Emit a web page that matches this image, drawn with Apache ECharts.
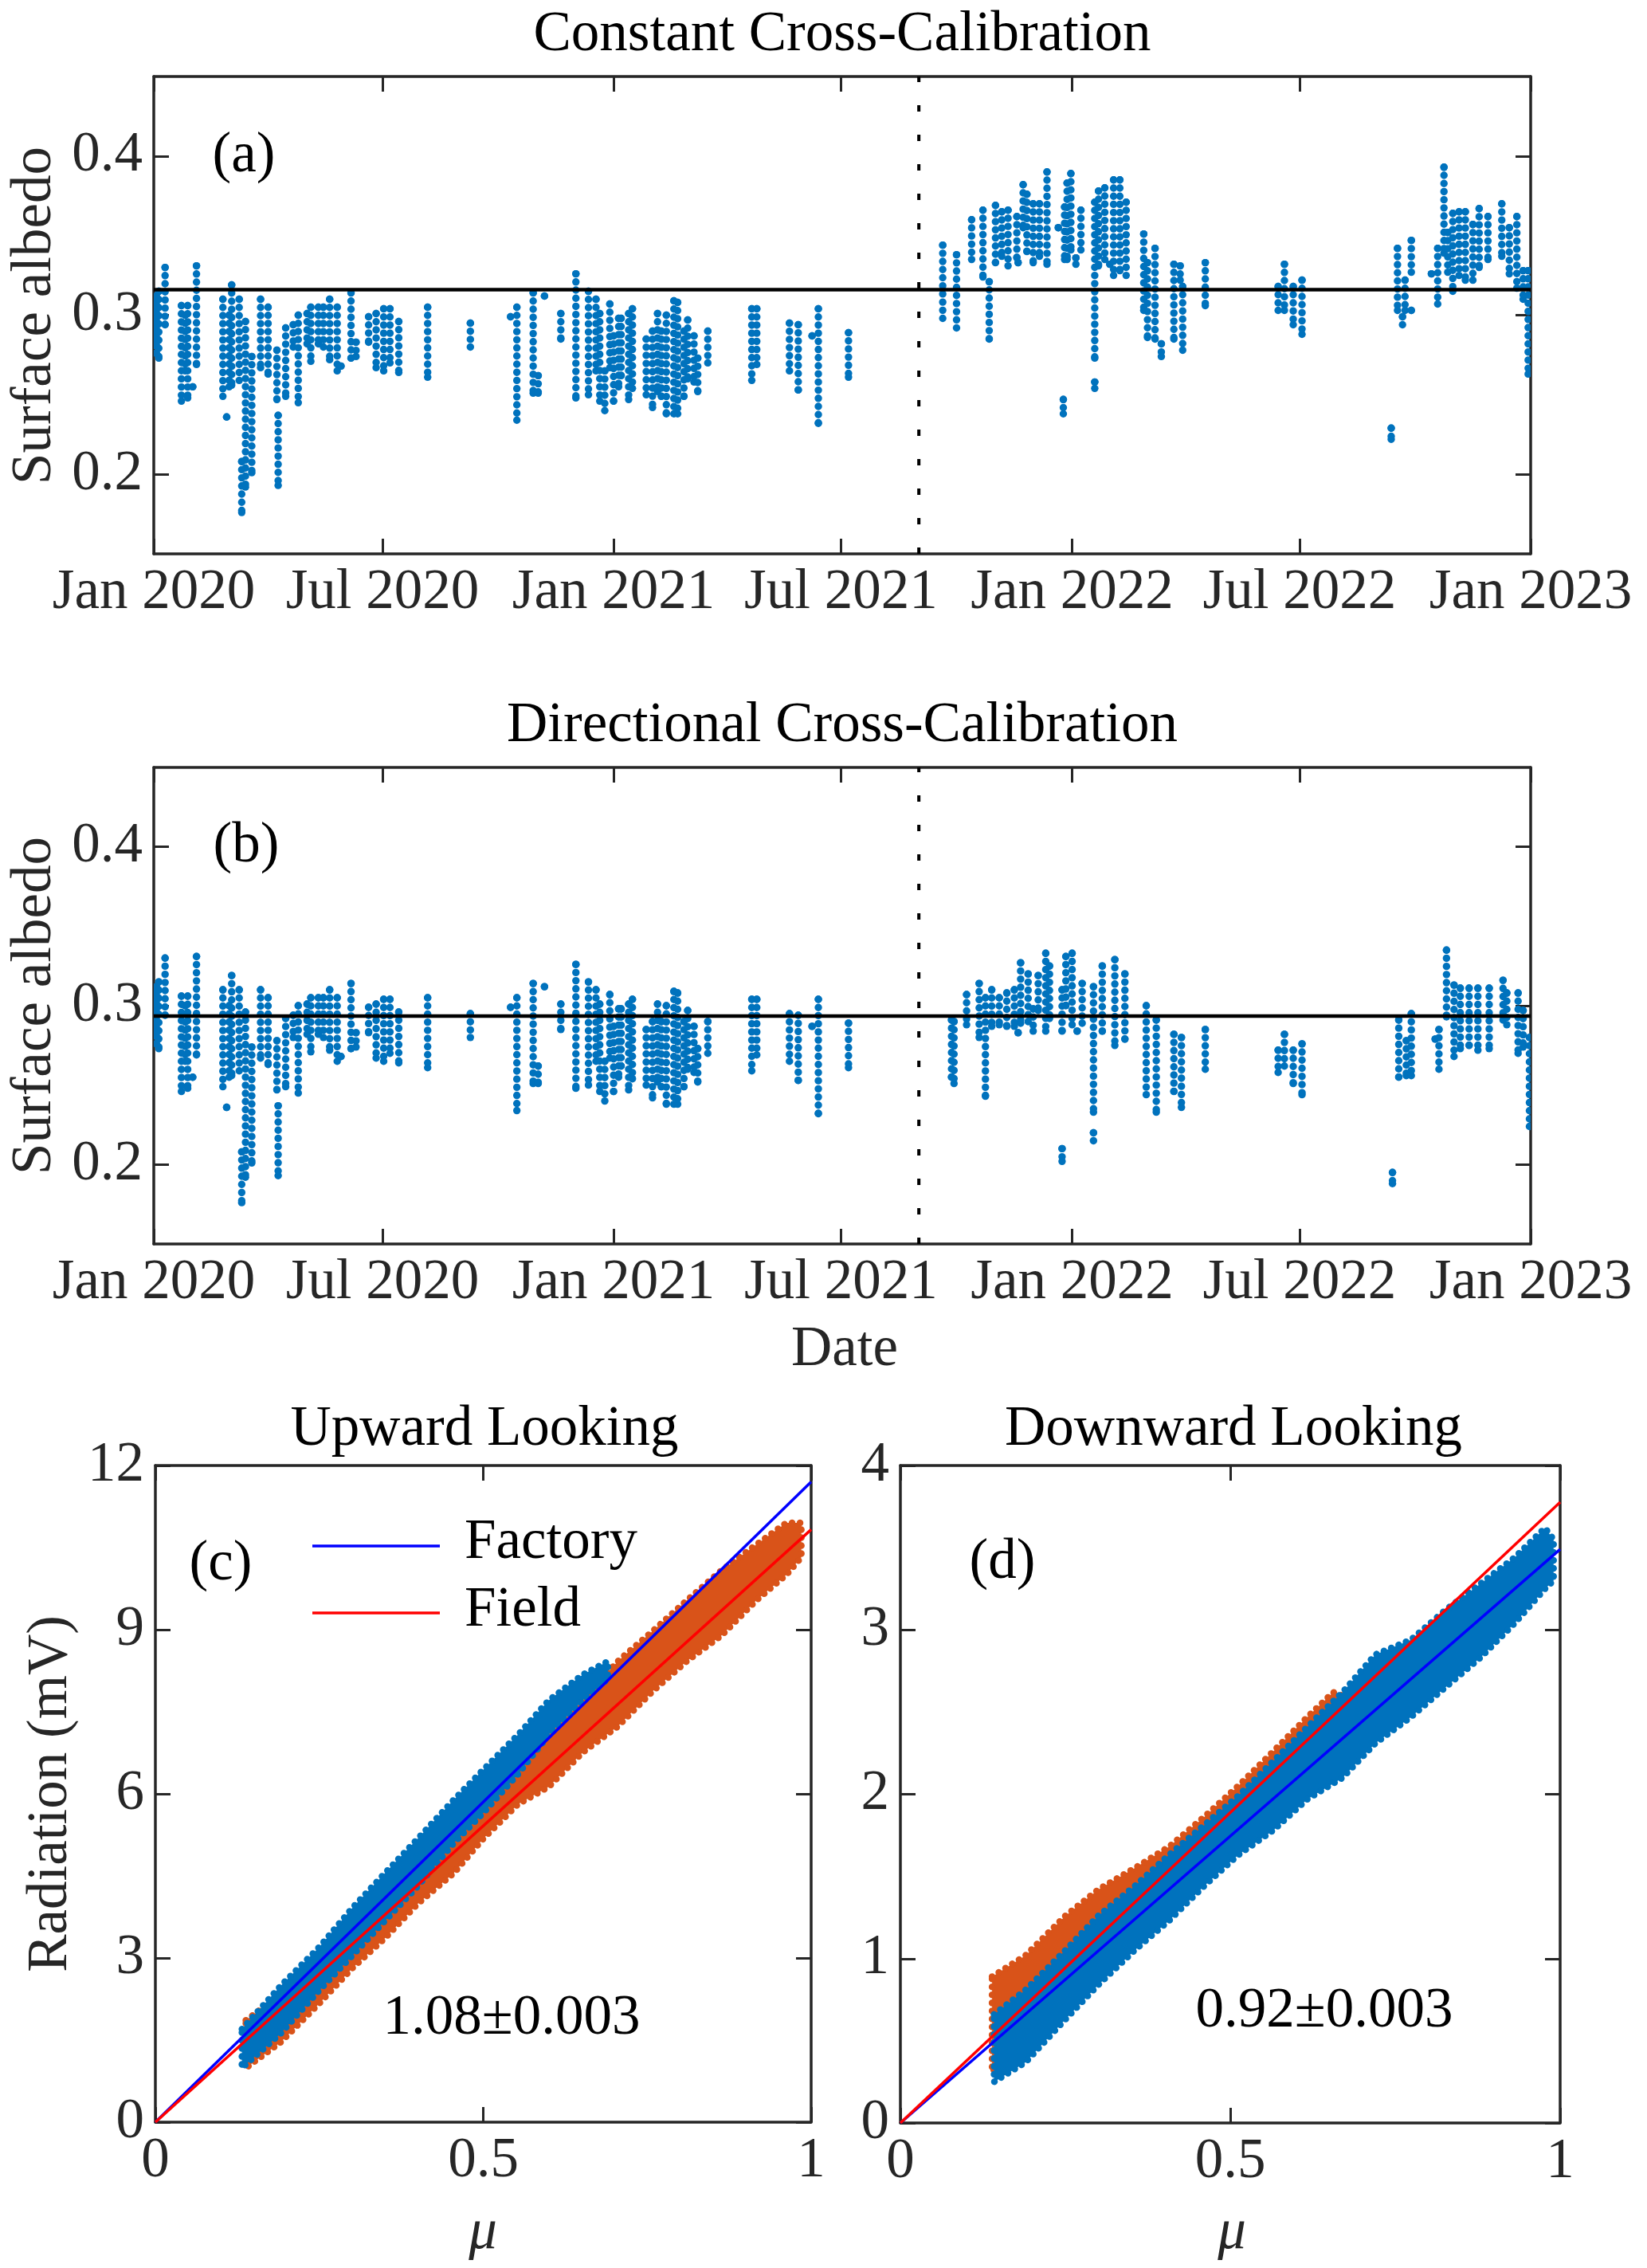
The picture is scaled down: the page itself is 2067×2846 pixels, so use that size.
<!DOCTYPE html>
<html>
<head>
<meta charset="utf-8">
<title>Cross-calibration</title>
<script src="https://cdn.jsdelivr.net/npm/echarts@6/dist/echarts.min.js"></script>
<style>
  html, body { margin: 0; padding: 0; background: #fff; }
  #main { width: 2067px; height: 2846px; }
</style>
</head>
<body>
<div id="main"></div>
<script>
// ---- data ----
// albedo columns: [days since 1 Jan 2020, lowest value, highest value] for each day of samples
var preSepCols = [
  [0,0.281,0.310],[2,0.276,0.312],[4,0.273,0.315],[9,0.294,0.330],[22,0.246,0.306],[25,0.265,0.300],
  [27,0.248,0.306],[31,0.255,0.255],[34,0.269,0.331],[55,0.249,0.310],[58,0.236,0.236],[60,0.255,0.300],
  [62,0.256,0.319],[68,0.259,0.310],[70,0.176,0.208],[73,0.192,0.296],[78,0.201,0.274],[85,0.267,0.310],
  [91,0.263,0.305],[98,0.247,0.278],[99,0.193,0.237],[105,0.249,0.292],[111,0.280,0.294],[115,0.245,0.300],
  [122,0.282,0.301],[125,0.271,0.305],[131,0.282,0.305],[135,0.280,0.305],[140,0.272,0.310],[146,0.265,0.305],
  [149,0.268,0.268],[157,0.273,0.314],[161,0.274,0.283],[171,0.283,0.299],[177,0.267,0.301],[183,0.265,0.304],
  [188,0.270,0.304],[195,0.264,0.296],[218,0.261,0.305],[252,0.280,0.295],[284,0.299,0.299],[289,0.234,0.305],
  [302,0.251,0.314],[306,0.251,0.262],[311,0.312,0.312],[324,0.285,0.301],[336,0.248,0.326],[346,0.250,0.315],
  [352,0.265,0.310],[355,0.246,0.301],[359,0.240,0.265],[363,0.267,0.307],[366,0.246,0.287],[370,0.255,0.298],
  [372,0.262,0.298],[378,0.247,0.301],[381,0.254,0.304],[392,0.250,0.285],[397,0.242,0.290],[401,0.252,0.301],
  [404,0.249,0.290],[408,0.238,0.300],[414,0.238,0.309],[417,0.238,0.308],[422,0.249,0.290],[425,0.260,0.297],
  [430,0.258,0.287],[433,0.252,0.273],[441,0.270,0.290],[476,0.259,0.304],[480,0.269,0.304],[506,0.265,0.295],
  [513,0.253,0.294],[524,0.287,0.287],[529,0.232,0.304],[553,0.261,0.289]
];
var constPostCols = [
  [628,0.298,0.344],[639,0.292,0.338],[651,0.335,0.360],[660,0.324,0.366],[665,0.285,0.321],[670,0.333,0.369],
  [675,0.337,0.365],[680,0.331,0.366],[687,0.336,0.362],[688,0.333,0.333],[692,0.355,0.382],[695,0.340,0.376],
  [700,0.333,0.370],[705,0.337,0.370],[711,0.332,0.390],[720,0.355,0.355],[724,0.238,0.247],[725,0.335,0.368],
  [727,0.335,0.383],[730,0.341,0.389],[734,0.332,0.336],[738,0.341,0.366],[749,0.273,0.371],[749,0.254,0.258],
  [752,0.331,0.378],[757,0.335,0.380],[761,0.332,0.332],[764,0.325,0.385],[769,0.328,0.385],[774,0.325,0.371],
  [788,0.303,0.351],[791,0.286,0.333],[797,0.285,0.342],[802,0.274,0.282],[812,0.285,0.332],[817,0.322,0.331],
  [819,0.278,0.318],[837,0.306,0.333],[895,0.303,0.318],[900,0.303,0.332],[907,0.294,0.318],[914,0.288,0.322],
  [985,0.222,0.229],[990,0.303,0.342],[994,0.294,0.299],[996,0.303,0.322],[1001,0.327,0.347],[1001,0.303,0.303],
  [1017,0.326,0.326],[1022,0.307,0.342],[1027,0.339,0.393],[1030,0.327,0.352],[1034,0.315,0.364],[1039,0.325,0.365],
  [1044,0.322,0.365],[1050,0.322,0.357],[1055,0.330,0.367],[1062,0.335,0.362],[1073,0.337,0.370],[1079,0.326,0.355],
  [1085,0.317,0.362],[1090,0.310,0.328],[1094,0.263,0.328]
];
var dirPostCols = [
  [635,0.255,0.291],[637,0.251,0.290],[647,0.288,0.307],[657,0.280,0.314],[662,0.243,0.305],[667,0.287,0.310],
  [673,0.288,0.305],[679,0.287,0.308],[685,0.287,0.310],[688,0.283,0.283],[690,0.289,0.327],[696,0.290,0.320],
  [700,0.284,0.298],[704,0.297,0.319],[710,0.284,0.333],[713,0.292,0.325],[723,0.202,0.210],[723,0.284,0.310],
  [726,0.300,0.331],[731,0.288,0.333],[735,0.284,0.284],[739,0.289,0.314],[748,0.233,0.312],[748,0.215,0.220],
  [755,0.284,0.325],[765,0.275,0.329],[773,0.279,0.320],[790,0.244,0.300],[798,0.233,0.291],[812,0.246,0.282],
  [818,0.236,0.280],[837,0.260,0.285],[895,0.258,0.272],[900,0.262,0.282],[907,0.251,0.272],[914,0.244,0.276],
  [986,0.188,0.195],[991,0.255,0.291],[997,0.256,0.278],[1001,0.256,0.295],[1020,0.279,0.279],[1023,0.260,0.285],
  [1029,0.293,0.335],[1035,0.268,0.313],[1040,0.273,0.311],[1047,0.275,0.311],[1054,0.272,0.311],[1063,0.273,0.311],
  [1074,0.291,0.316],[1077,0.288,0.308],[1086,0.270,0.308],[1090,0.274,0.297],[1095,0.224,0.280]
];
var constMean = 0.316;
var dirMean = 0.2935;
var switchDay = 609;            // 1 Sep 2021
var dateTickDays = [0, 182, 366, 547, 731, 912, 1096];
var dateTickLabels = ['Jan 2020', 'Jul 2020', 'Jan 2021', 'Jul 2021', 'Jan 2022', 'Jul 2022', 'Jan 2023'];
var albedoTicks = [0.2, 0.3, 0.4];

// (c) upward looking: scatter envelopes, mu -> low / high radiation (mV)
var upFieldMu = [0.138,0.191,0.25,0.30,0.35,0.40,0.455,0.50,0.553,0.60,0.652,0.705,0.758,0.81,0.863,0.916,0.962,0.985];
var upFieldLo = [0.99,1.46,2.17,2.81,3.36,3.99,4.55,5.18,5.81,6.13,6.76,7.23,7.87,8.42,8.89,9.53,10.00,10.32];
var upFieldHi = [1.86,2.33,3.04,3.60,4.15,4.70,5.34,5.97,6.60,7.08,7.71,8.42,8.97,9.53,10.08,10.55,10.95,10.95];
var upFacMu = [0.132,0.191,0.25,0.30,0.35,0.40,0.455,0.50,0.553,0.60,0.652,0.69];
var upFacLo = [0.99,1.62,2.41,3.04,3.68,4.31,5.10,5.65,6.36,7.08,7.71,8.10];
var upFacHi = [1.70,2.49,3.20,3.91,4.55,5.18,5.89,6.44,7.08,7.71,8.18,8.42];
var upFactoryFit = [[0, 0], [1, 11.7]];
var upFieldFit = [[0, 0], [1, 10.83]];

// (d) downward looking
var dnFacMu = [0.142,0.19,0.25,0.30,0.355,0.407,0.46,0.512,0.565,0.617,0.67,0.72,0.774,0.826,0.879,0.931,0.977,0.99];
var dnFacLo = [0.25,0.37,0.63,0.84,1.05,1.23,1.44,1.63,1.78,1.97,2.10,2.31,2.47,2.65,2.83,3.04,3.25,3.30];
var dnFacHi = [0.66,0.81,1.05,1.26,1.44,1.63,1.81,1.99,2.20,2.41,2.62,2.85,2.94,3.12,3.28,3.44,3.62,3.55];
var dnFieldMu = [0.139,0.19,0.25,0.30,0.355,0.407,0.46,0.512,0.565,0.617,0.656,0.67];
var dnFieldLo = [0.31,0.58,0.81,1.05,1.26,1.44,1.63,1.81,2.05,2.26,2.44,2.50];
var dnFieldHi = [0.89,1.02,1.26,1.42,1.55,1.68,1.86,2.05,2.26,2.47,2.62,2.60];
var dnFactoryFit = [[0, 0], [1, 3.49]];
var dnFieldFit = [[0, 0], [1, 3.777]];

// ---- styling ----
var FONT = '"Liberation Serif", "DejaVu Serif", serif';
var FS = 71;
var AX = '#262626';
var DOT = '#0072BD';
var ORANGE = '#D95319';

var myChart = echarts.init(document.getElementById('main'), null, {renderer: 'canvas'});

function colRender(params, api) {
  var x = api.value(0), lo = api.value(1), hi = api.value(2);
  var p1 = api.coord([x, hi]), p2 = api.coord([x, lo]);
  var r = 4.7;
  var kids = [
    {type: 'circle', shape: {cx: p1[0], cy: p1[1], r: r}, style: {fill: DOT}},
    {type: 'circle', shape: {cx: p2[0], cy: p2[1], r: r}, style: {fill: DOT}}
  ];
  if (p2[1] - p1[1] > 2) {
    kids.push({type: 'line', shape: {x1: p1[0], y1: p1[1], x2: p2[0], y2: p2[1]},
      style: {stroke: DOT, lineWidth: 9.4, lineCap: 'round', lineDash: [0.01, 10.2]}});
  }
  return {type: 'group', children: kids};
}

function colSeries(rows, g) {
  return {type: 'custom', xAxisIndex: 2 * g, yAxisIndex: 2 * g, data: rows, renderItem: colRender,
    encode: {x: 0, y: [1, 2]}, clip: true, z: 2};
}

// one polygon per envelope: upper edge left->right, lower edge right->left
function bandSeries(mu, lo, hi, color, g) {
  var rows = mu.map(function (m, i) { return [m, lo[i], hi[i]]; });
  return {
    type: 'custom', xAxisIndex: 2 * g, yAxisIndex: 2 * g, data: rows, z: 2,
    encode: {x: 0, y: [1, 2]},
    renderItem: function (params, api) {
      if (params.dataIndex !== 0) return;
      var pts = [];
      for (var i = 0; i < rows.length; i++) pts.push(api.coord([rows[i][0], rows[i][2]]));
      for (var j = rows.length - 1; j >= 0; j--) pts.push(api.coord([rows[j][0], rows[j][1]]));
      return {type: 'group', children: [
        {type: 'polygon', shape: {points: pts}, style: {fill: color}},
        {type: 'polygon', shape: {points: pts},
          style: {fill: null, stroke: color, lineWidth: 8.5, lineCap: 'round', lineJoin: 'round', lineDash: [0.01, 10]}}
      ]};
    }
  };
}

function lineSeries(data, g, color, width, type, z) {
  return {type: 'line', xAxisIndex: 2 * g, yAxisIndex: 2 * g, data: data, symbol: 'none', silent: true,
    lineStyle: {color: color, width: width, type: type || 'solid'}, z: z || 5};
}

function xAx(g, pos, min, max, ticks, fmt) {
  return {
    type: 'value', gridIndex: g, position: pos, min: min, max: max,
    axisLine: {show: true, onZero: false, lineStyle: {color: AX, width: 3.5}},
    axisTick: {show: true, inside: true, length: 19, customValues: ticks, lineStyle: {color: AX, width: 3}},
    axisLabel: {show: pos === 'bottom', customValues: ticks, formatter: fmt, showMinLabel: true, showMaxLabel: true,
      fontFamily: FONT, fontSize: FS, color: AX, margin: 14},
    splitLine: {show: false}
  };
}

function yAx(g, pos, min, max, ticks, fmt) {
  return {
    type: 'value', gridIndex: g, position: pos, min: min, max: max,
    axisLine: {show: true, onZero: false, lineStyle: {color: AX, width: 3.5}},
    axisTick: {show: true, inside: true, length: 19, customValues: ticks, lineStyle: {color: AX, width: 3}},
    axisLabel: {show: pos === 'left', customValues: ticks, formatter: fmt, showMinLabel: true, showMaxLabel: true,
      fontFamily: FONT, fontSize: FS, color: AX, margin: 14},
    splitLine: {show: false}
  };
}

var dateFmt = function (v) {
  var i = dateTickDays.indexOf(Math.round(v));
  return i >= 0 ? dateTickLabels[i] : '';
};
var albFmt = function (v) { return v.toFixed(1); };
var plainFmt = function (v) { return String(+v.toFixed(2)); };

var grids = [
  {left: 193, top: 96, width: 1728, height: 599},
  {left: 193, top: 963, width: 1728, height: 598},
  {left: 195, top: 1839, width: 823, height: 824},
  {left: 1130, top: 1839, width: 828, height: 825}
];

var xAxes = [], yAxes = [];
[0, 1].forEach(function (g) {
  xAxes.push(xAx(g, 'bottom', 0, 1096, dateTickDays, dateFmt));
  xAxes.push(xAx(g, 'top', 0, 1096, dateTickDays, dateFmt));
  yAxes.push(yAx(g, 'left', 0.15, 0.45, albedoTicks, albFmt));
  yAxes.push(yAx(g, 'right', 0.15, 0.45, albedoTicks, albFmt));
});
xAxes.push(xAx(2, 'bottom', 0, 1, [0, 0.5, 1], plainFmt));
xAxes.push(xAx(2, 'top', 0, 1, [0, 0.5, 1], plainFmt));
yAxes.push(yAx(2, 'left', 0, 12, [0, 3, 6, 9, 12], plainFmt));
yAxes.push(yAx(2, 'right', 0, 12, [0, 3, 6, 9, 12], plainFmt));
xAxes.push(xAx(3, 'bottom', 0, 1, [0, 0.5, 1], plainFmt));
xAxes.push(xAx(3, 'top', 0, 1, [0, 0.5, 1], plainFmt));
yAxes.push(yAx(3, 'left', 0, 4, [0, 1, 2, 3, 4], plainFmt));
yAxes.push(yAx(3, 'right', 0, 4, [0, 1, 2, 3, 4], plainFmt));

function txt(text, x, y, opts) {
  opts = opts || {};
  return {
    type: 'text', x: x, y: y, rotation: opts.rot || 0, z: 100,
    style: {text: text, align: opts.align || 'center', verticalAlign: 'middle',
      font: (opts.italic ? 'italic ' : '') + (opts.size || FS) + 'px ' + FONT, fill: opts.color || '#000'}
  };
}

var graphics = [
  txt('Constant Cross-Calibration', 1057, 44),
  txt('Directional Cross-Calibration', 1057, 911),
  txt('Surface albedo', 44, 396, {rot: Math.PI / 2, color: AX}),
  txt('Surface albedo', 44, 1262, {rot: Math.PI / 2, color: AX}),
  txt('Date', 1060, 1694, {color: AX}),
  txt('Upward Looking', 608, 1794),
  txt('Downward Looking', 1548, 1794),
  txt('Radiation (mV)', 64, 2251, {rot: Math.PI / 2, color: AX}),
  txt('\u03bc', 606, 2802, {italic: true, color: AX}),
  txt('\u03bc', 1546, 2802, {italic: true, color: AX}),
  txt('(a)', 306, 196),
  txt('(b)', 309, 1062),
  txt('(c)', 277, 1963),
  txt('(d)', 1258, 1961),
  txt('Factory', 583, 1936, {align: 'left'}),
  txt('Field', 583, 2021, {align: 'left'}),
  txt('1.08\u00b10.003', 642, 2533),
  txt('0.92\u00b10.003', 1662, 2524),
  {type: 'line', z: 100, shape: {x1: 392, y1: 1940, x2: 552, y2: 1940}, style: {stroke: '#0000FF', lineWidth: 3.5}},
  {type: 'line', z: 100, shape: {x1: 392, y1: 2024, x2: 552, y2: 2024}, style: {stroke: '#FF0000', lineWidth: 3.5}}
];

var option = {
  animation: false,
  backgroundColor: '#fff',
  grid: grids,
  xAxis: xAxes,
  yAxis: yAxes,
  graphic: graphics,
  series: [
    colSeries(preSepCols, 0),
    colSeries(constPostCols, 0),
    lineSeries([[0, constMean], [1096, constMean]], 0, '#000', 4.5),
    lineSeries([[switchDay, 0.15], [switchDay, 0.45]], 0, '#000', 4, [8, 29]),

    colSeries(preSepCols, 1),
    colSeries(dirPostCols, 1),
    lineSeries([[0, dirMean], [1096, dirMean]], 1, '#000', 4.5),
    lineSeries([[switchDay, 0.15], [switchDay, 0.45]], 1, '#000', 4, [8, 29]),

    bandSeries(upFieldMu, upFieldLo, upFieldHi, ORANGE, 2),
    bandSeries(upFacMu, upFacLo, upFacHi, DOT, 2),
    lineSeries(upFactoryFit, 2, '#0000FF', 3.5),
    lineSeries(upFieldFit, 2, '#FF0000', 3.5),

    bandSeries(dnFieldMu, dnFieldLo, dnFieldHi, ORANGE, 3),
    bandSeries(dnFacMu, dnFacLo, dnFacHi, DOT, 3),
    lineSeries(dnFactoryFit, 3, '#0000FF', 3.5),
    lineSeries(dnFieldFit, 3, '#FF0000', 3.5)
  ]
};

myChart.setOption(option);
</script>
</body>
</html>
